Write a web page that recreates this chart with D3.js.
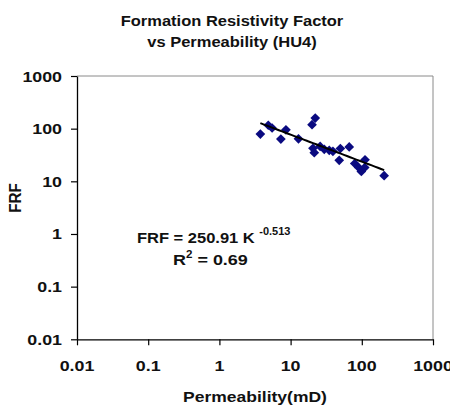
<!DOCTYPE html>
<html><head><meta charset="utf-8">
<script src="https://cdn.jsdelivr.net/npm/d3@7"></script>
<style>html,body{margin:0;padding:0;background:#fff;}svg{display:block;font-family:"Liberation Sans",Arial,sans-serif;}</style>
</head><body>
<script>
const titleLines = ["Formation Resistivity Factor", "vs Permeability (HU4)"];
const xTickValues = [0.01, 0.1, 1, 10, 100, 1000];
const xTickLabels = ["0.01", "0.1", "1", "10", "100", "1000"];
const yTickValues = [0.01, 0.1, 1, 10, 100, 1000];
const yTickLabels = ["0.01", "0.1", "1", "10", "100", "1000"];
const permeability = [3.76, 4.86, 5.5, 7.3, 8.6, 12.9, 20, 22.2, 20.6, 21.5, 26, 29.7, 34.9, 39.3, 50, 48.2, 66.6, 79.6, 90.4, 111, 98.5, 110, 206];
const frf = [79, 116, 103, 63.5, 95, 64, 119, 159, 42.5, 35, 46, 40.5, 38.8, 37.2, 42, 25, 45, 21.8, 18.3, 25.7, 15.4, 18.3, 12.8];
const fitA = 250.91, fitB = -0.513;

const W = 450, H = 406;
const svg = d3.select("body").append("svg").attr("width", W).attr("height", H);
const x = d3.scaleLog().domain([0.01, 1000]).range([77, 433]);
const y = d3.scaleLog().domain([0.01, 1000]).range([339.3, 76]);
const SX = 1.1;

function stext(g, tx, ty, str, size, anchor, sx) {
  const t = g.append("g").attr("transform", `translate(${tx},${ty}) scale(${sx || SX},1)`)
    .append("text").attr("font-size", size).attr("font-weight", "bold")
    .attr("fill", "#111").attr("text-anchor", anchor || "middle").text(str);
  return t;
}

// title
stext(svg, 232, 26, titleLines[0], 15);
stext(svg, 232, 47, titleLines[1], 15);

// frame (top & right gray)
svg.append("path").attr("d", `M${x(0.01)},${y(1000)}H${x(1000)}V${y(0.01)}`)
  .attr("fill", "none").attr("stroke", "#8a8a8a").attr("stroke-width", 1);

// axes
const xAxis = d3.axisBottom(x).tickValues(xTickValues).tickFormat((d,i) => "").tickSize(6).tickSizeOuter(0);
const gx = svg.append("g").attr("transform", `translate(0,${y(0.01)})`).call(xAxis);
const yAxis = d3.axisLeft(y).tickValues(yTickValues).tickFormat((d,i) => "").tickSize(6).tickSizeOuter(0);
const gy = svg.append("g").attr("transform", `translate(${x(0.01)},0)`).call(yAxis);
[gx, gy].forEach(g => { g.select(".domain").attr("stroke", "#000").attr("stroke-width", 1.3); g.selectAll(".tick line").attr("stroke", "#000").attr("stroke-width", 1.2); });

xTickValues.forEach((v, i) => stext(svg, x(v), 370.5, xTickLabels[i], 15.5, "middle", 1.15));
yTickValues.forEach((v, i) => stext(svg, 62, y(v) + 5.5, yTickLabels[i], 15.5, "end", 1.15));

// axis titles
stext(svg, 255, 402, "Permeability(mD)", 15.5, "middle", 1.13);
svg.append("g").attr("transform", "translate(21,198) rotate(-90) scale(1.02,1.1)")
  .append("text").attr("font-size", 15).attr("font-weight", "bold").attr("fill", "#111")
  .attr("text-anchor", "middle").text("FRF");

// points
const diamond = d3.symbol().type(d3.symbolDiamond2).size(60);
svg.append("g").selectAll("path").data(permeability.map((k, i) => [k, frf[i]])).join("path")
  .attr("d", diamond).attr("transform", d => `translate(${x(d[0])},${y(d[1])})`)
  .attr("fill", "#0a0a80");

// trend line
const kExt = d3.extent(permeability);
const trend = d3.range(0, 41).map(i => { const k = kExt[0] * Math.pow(kExt[1] / kExt[0], i / 40); return [k, fitA * Math.pow(k, fitB)]; });
svg.append("path").datum(trend).attr("d", d3.line().x(d => x(d[0])).y(d => y(d[1])))
  .attr("fill", "none").attr("stroke", "#000").attr("stroke-width", 2);

// equation
const eq = svg.append("g").attr("transform", `translate(137,243) scale(${SX},1)`);
const t1 = eq.append("text").attr("font-size", 15).attr("font-weight", "bold").attr("fill", "#111");
t1.append("tspan").text("FRF = 250.91 K ");
t1.append("tspan").attr("font-size", 10).attr("dy", -8).text("-0.513");
const eq2 = svg.append("g").attr("transform", `translate(173,265) scale(1.16,1)`);
const t2 = eq2.append("text").attr("font-size", 15.5).attr("font-weight", "bold").attr("fill", "#111");
t2.append("tspan").text("R");
t2.append("tspan").attr("font-size", 10).attr("dy", -7).text("2");
t2.append("tspan").attr("dy", 7).text(" = 0.69");
</script>
</body></html>
